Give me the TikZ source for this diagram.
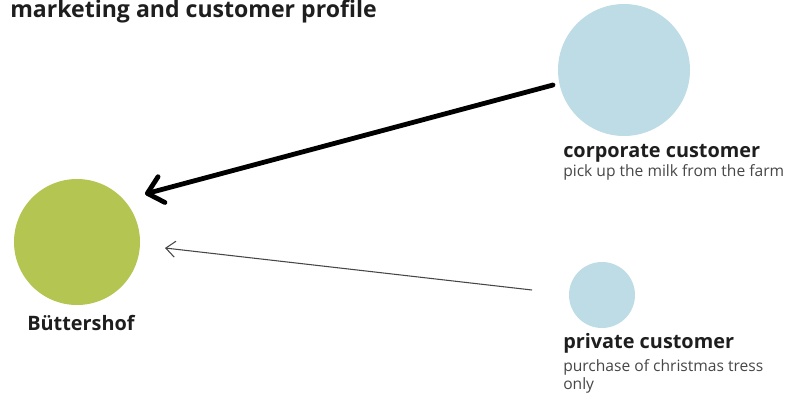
\documentclass[tikz,border=0pt]{standalone}
\usepackage{fontspec}
\setmainfont{Open Sans}
\usepackage{xcolor}
\usetikzlibrary{arrows.meta,positioning}
\definecolor{farmgreen}{RGB}{181,197,82}
\definecolor{custblue}{RGB}{190,220,229}
\definecolor{txtdark}{RGB}{30,30,30}
\definecolor{txtgray}{RGB}{70,70,70}

\begin{document}
\begin{tikzpicture}[x=0.75pt,y=-0.75pt,
  blob/.style={circle, draw=none, inner sep=0pt},
  headline/.style={anchor=base west, inner sep=0pt, text=txtdark, font=\bfseries\fontsize{14.9}{17}\selectfont},
  subline/.style={anchor=base west, inner sep=0pt, text=txtgray, font=\fontsize{11.7}{14}\selectfont},
  bigarrow/.style={line width=3.6pt, line cap=round, -{Straight Barb[round, length=11pt, width=20pt]}},
  smallarrow/.style={line width=0.8pt, draw=txtgray, -{Straight Barb[length=7pt, width=12pt]}}
]
  \useasboundingbox (0,0) rectangle (789,400);
  % title
  \node[anchor=base west, inner sep=0pt, text=txtdark, font=\bfseries\fontsize{17.3}{19}\selectfont] (title) at (10,17.5) {marketing and customer profile};
  % circles
  \node[blob, fill=farmgreen, minimum size=94.5pt] (farm) at (77,242) {};
  \node[blob, fill=custblue, minimum size=99pt] (corp) at (624,70) {};
  \node[blob, fill=custblue, minimum size=49.5pt] (priv) at (602,295) {};
  % labels
  \node[headline] (farmlbl) at (27,330) {Büttershof};
  \node[headline] (corplbl) at (563,157) {corporate customer};
  \node[subline] (corpsub) at (563,176) {pick up the milk from the farm};
  \node[headline] (privlbl) at (563,348) {private customer};
  \node[subline] (privsub) at (563,371) {purchase of christmas tress};
  \node[subline] (privsub2) at (563,389) {only};
  % arrows
  \coordinate (corpout) at (553,85);
  \coordinate (farmin1) at (145,194);
  \coordinate (privout) at (532,290);
  \coordinate (farmin2) at (165,248);
  \draw[bigarrow] (corpout) -- (farmin1);
  \draw[smallarrow] (privout) -- (farmin2);
\end{tikzpicture}
\end{document}
